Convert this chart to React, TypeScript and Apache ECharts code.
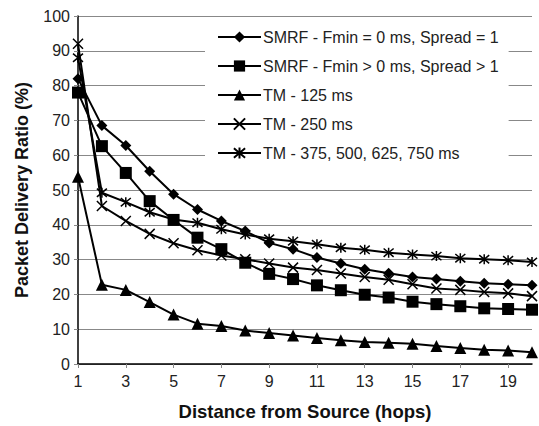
import React, { useEffect, useRef } from "react";
import * as echarts from "echarts";

const hops = ["1","2","3","4","5","6","7","8","9","10","11","12","13","14","15","16","17","18","19","20"];
const yTicks = [0, 10, 20, 30, 40, 50, 60, 70, 80, 90, 100];

const seriesNames = [
  "SMRF - Fmin = 0 ms, Spread = 1",
  "SMRF - Fmin > 0 ms, Spread > 1",
  "TM - 125 ms",
  "TM - 250 ms",
  "TM - 375, 500, 625, 750 ms",
];

const smrfZero = [82, 68.5, 62.8, 55.4, 48.8, 44.4, 41.1, 38.2, 34.8, 33.0, 30.6, 28.9, 27.2, 26.1, 25.0, 24.4, 23.8, 23.2, 22.9, 22.6];
const smrfPos = [78, 62.6, 54.9, 46.8, 41.4, 36.3, 33.0, 29.1, 25.9, 24.4, 22.6, 21.2, 19.9, 19.1, 17.9, 17.2, 16.6, 16.0, 15.8, 15.6];
const tm125 = [53.8, 22.8, 21.3, 17.8, 14.2, 11.6, 10.9, 9.6, 8.9, 8.2, 7.5, 6.8, 6.3, 6.1, 5.8, 5.2, 4.6, 4.1, 3.9, 3.4];
const tm250 = [92, 45.4, 41.1, 37.4, 34.7, 32.7, 31.2, 30.1, 28.9, 27.7, 27.0, 26.0, 25.0, 24.2, 22.9, 21.7, 21.3, 20.7, 20.3, 19.5];
const tmRest = [88, 49.2, 46.5, 43.6, 41.5, 40.6, 38.7, 37.2, 36.0, 35.3, 34.4, 33.4, 32.8, 32.0, 31.5, 31.0, 30.4, 30.1, 29.8, 29.3];

const seriesValues = [smrfZero, smrfPos, tm125, tm250, tmRest];

const CROSS = "path://M0,0L10,10M10,0L0,10";
const STAR = "path://M0,0L10,10M10,0L0,10M5,-1L5,11";

const symbols = ["diamond", "rect", "triangle", CROSS, STAR];
const symbolSizes = [11, 12, 12, 10, 10];

export default function App() {
  const ref = useRef<HTMLDivElement>(null);
  useEffect(() => {
    if (!ref.current) return;
    const chart = echarts.init(ref.current, null, { renderer: "svg" });
    const font = "'Liberation Sans', Arial, sans-serif";
    chart.setOption({
      animation: false,
      backgroundColor: "#fff",
      textStyle: { fontFamily: font },
      grid: { left: 78, right: 7, top: 16, bottom: 61, containLabel: false },
      legend: {
        orient: "vertical",
        left: 205,
        top: 20,
        padding: [9, 10, 16, 12],
        backgroundColor: "#fff",
        itemWidth: 43,
        itemHeight: 14,
        itemGap: 13,
        textStyle: { fontSize: 16, color: "#222", fontFamily: font, padding: [0, 0, 0, -3] },
        data: seriesNames,
      },
      xAxis: {
        type: "category",
        data: hops,
        boundaryGap: false,
        name: "Distance from Source (hops)",
        nameLocation: "middle",
        nameGap: 38,
        nameTextStyle: { fontSize: 18.5, fontWeight: "bold", color: "#111", fontFamily: font },
        axisLine: { lineStyle: { color: "#000", width: 1.5 } },
        axisTick: { show: true, interval: 1, length: 4, lineStyle: { color: "#888" } },
        axisLabel: { interval: 1, fontSize: 16, color: "#222", margin: 9, fontFamily: font },
        splitLine: { show: false },
      },
      yAxis: {
        type: "value",
        min: yTicks[0],
        max: yTicks[yTicks.length - 1],
        interval: 10,
        name: "Packet Delivery Ratio (%)",
        nameLocation: "middle",
        nameGap: 47,
        nameTextStyle: { fontSize: 18, fontWeight: "bold", color: "#111", fontFamily: font },
        axisLine: { show: true, lineStyle: { color: "#000", width: 1.5 } },
        axisTick: { show: true, length: 4, lineStyle: { color: "#888" } },
        axisLabel: { fontSize: 16, color: "#222", margin: 8, fontFamily: font },
        splitLine: { show: true, lineStyle: { color: "#888", width: 1 } },
      },
      series: seriesValues.map((vals, i) => ({
        name: seriesNames[i],
        type: "line",
        data: vals,
        symbol: symbols[i],
        symbolSize: symbolSizes[i],
        showAllSymbol: true,
        lineStyle: { color: "#000", width: 2 },
        itemStyle: { color: "#000", borderColor: "#000", borderWidth: i >= 3 ? 1.5 : 0 },
        z: 10 - i,
      })),
    });
    return () => chart.dispose();
  }, []);
  return <div ref={ref} style={{ position: "fixed", left: 0, top: 0, width: 539, height: 426 }} />;
}
